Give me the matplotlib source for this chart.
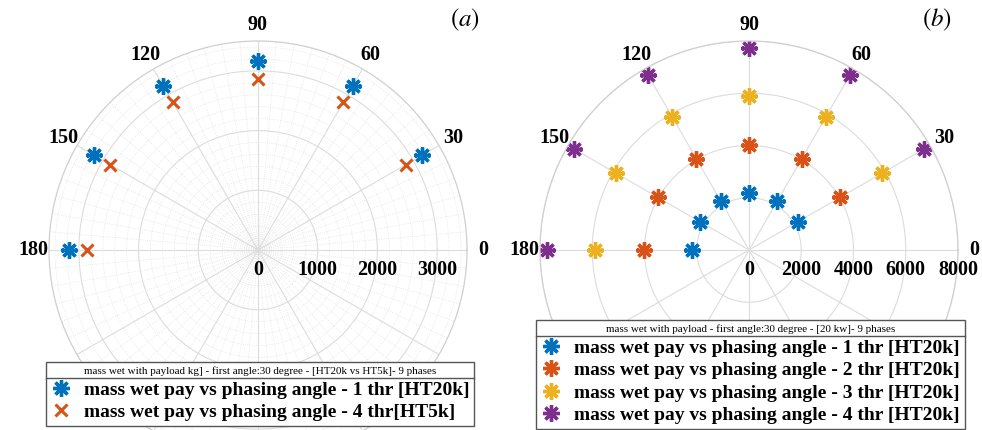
import numpy as np
import matplotlib
matplotlib.use("Agg")
import matplotlib.pyplot as plt
from matplotlib.lines import Line2D

plt.rcParams['font.family'] = ['Liberation Serif', 'DejaVu Serif']
plt.rcParams['mathtext.fontset'] = 'stix'

# phasing angles (deg)
angles = [30, 60, 90, 120, 150, 180]

# (a) mass wet with payload [kg]
mass_1thr_ht20k = [3170, 3170, 3170, 3170, 3170, 3170]
mass_4thr_ht5k = [2860, 2860, 2860, 2860, 2860, 2860]

# (b) mass wet with payload, 1..4 thrusters HT20k
mass_b_1thr = [2170, 2170, 2170, 2170, 2170, 2170]
mass_b_2thr = [4030, 4030, 4030, 4030, 4030, 4030]
mass_b_3thr = [5880, 5880, 5880, 5880, 5880, 5880]
mass_b_4thr = [7740, 7740, 7740, 7740, 7740, 7740]

labels_a = ["mass wet pay vs phasing angle - 1 thr [HT20k]",
            "mass wet pay vs phasing angle - 4 thr[HT5k]"]
labels_b = ["mass wet pay vs phasing angle - %d thr [HT20k]" % k for k in range(1, 5)]
title_a = "mass wet with payload kg] - first angle:30 degree - [HT20k vs HT5k]- 9 phases"
title_b = "mass wet with payload - first angle:30 degree - [20 kw]- 9 phases"

blue, orange, yellow, purple = '#0072BD', '#D95319', '#EDB120', '#7E2F8E'
star = (8, 2, 0)

W, H = 982, 430
fig = plt.figure(figsize=(W / 100, H / 100), dpi=100)


def make_axes(cx, cy, R, rmax, rticks, minor):
    ax = fig.add_axes([(cx - R) / W, (H - cy - R) / H, 2 * R / W, 2 * R / H],
                      projection='polar')
    ax.set_ylim(0, rmax)
    # lower half labels sit behind the legend / outside the figure
    ax.set_thetagrids(np.arange(0, 360, 30),
                      [str(a) if a <= 180 else '' for a in range(0, 360, 30)],
                      fontsize=14.5, fontweight='bold')
    ax.tick_params(axis='x', pad=1)
    ax.set_yticks(rticks)
    ax.set_yticklabels([])
    ax.grid(True, color='#dcdcdc', linewidth=0.8)
    ax.spines['polar'].set_color('#cfcfcf')
    ax.spines['polar'].set_linewidth(0.9)
    if minor:
        for a in np.arange(0, 360, 5):
            if a % 30:
                ax.plot([np.deg2rad(a)] * 2, [0, rmax], color='#e4e4e4',
                        lw=0.6, ls=':', zorder=0)
        th = np.linspace(0, 2 * np.pi, 361)
        for r in np.arange(200, rmax, 200):
            if r % 1000:
                ax.plot(th, [r] * len(th), color='#e4e4e4', lw=0.6, ls=':', zorder=0)
    for r in rticks:
        ax.annotate(str(r), xy=(0, r), xytext=(0, -7), textcoords='offset points',
                    ha='center', va='top', fontsize=14.5, fontweight='bold',
                    annotation_clip=False)
    ax.set_facecolor('white')
    return ax


def add_legend(ax, x0, y0, title):
    leg = ax.legend(loc='lower left', bbox_to_anchor=(x0 / W, (H - y0) / H),
                    bbox_transform=fig.transFigure, title=title,
                    prop={'weight': 'bold', 'size': 14.0},
                    title_fontproperties={'size': 7.9},
                    fancybox=False, framealpha=1, edgecolor='#555555',
                    borderpad=0.25, labelspacing=0.25, handlelength=1.0,
                    handletextpad=0.7, borderaxespad=0)
    leg.get_frame().set_linewidth(1.0)
    leg.set_zorder(10)
    return leg


theta = np.deg2rad(angles)

ax1 = make_axes(258, 250, 209, 3500, [0, 1000, 2000, 3000], True)
ax1.plot(theta, mass_1thr_ht20k, ls='none', marker=star, ms=12, mew=2.4,
         color=blue, label=labels_a[0])
ax1.plot(theta, mass_4thr_ht5k, ls='none', marker='x', ms=9, mew=2.2,
         color=orange, label=labels_a[1])
leg1 = add_legend(ax1, 46, 426, title_a)

ax2 = make_axes(749, 250, 209, 8000, [0, 2000, 4000, 6000, 8000], False)
for vals, col, lab in zip([mass_b_1thr, mass_b_2thr, mass_b_3thr, mass_b_4thr],
                          [blue, orange, yellow, purple], labels_b):
    ax2.plot(theta, vals, ls='none', marker=star, ms=12, mew=2.4,
             color=col, label=lab)
leg2 = add_legend(ax2, 536, 429, title_b)

fig.text(465 / W, 1 - 20 / H, r'$(a)$', fontsize=18, ha='center', va='center')
fig.text(937 / W, 1 - 20 / H, r'$(b)$', fontsize=18, ha='center', va='center')

# separator line below legend titles
fig.canvas.draw()
inv = fig.transFigure.inverted()
for leg in (leg1, leg2):
    fb = leg.get_frame().get_window_extent()
    tb = leg.get_title().get_window_extent()
    y = tb.y0 - 2
    (x0, yf), (x1, _) = inv.transform([(fb.x0, y), (fb.x1, y)])
    fig.add_artist(Line2D([x0, x1], [yf, yf], transform=fig.transFigure,
                          color='#555555', lw=1.0, zorder=11))

fig.savefig('out.png', dpi=100)
